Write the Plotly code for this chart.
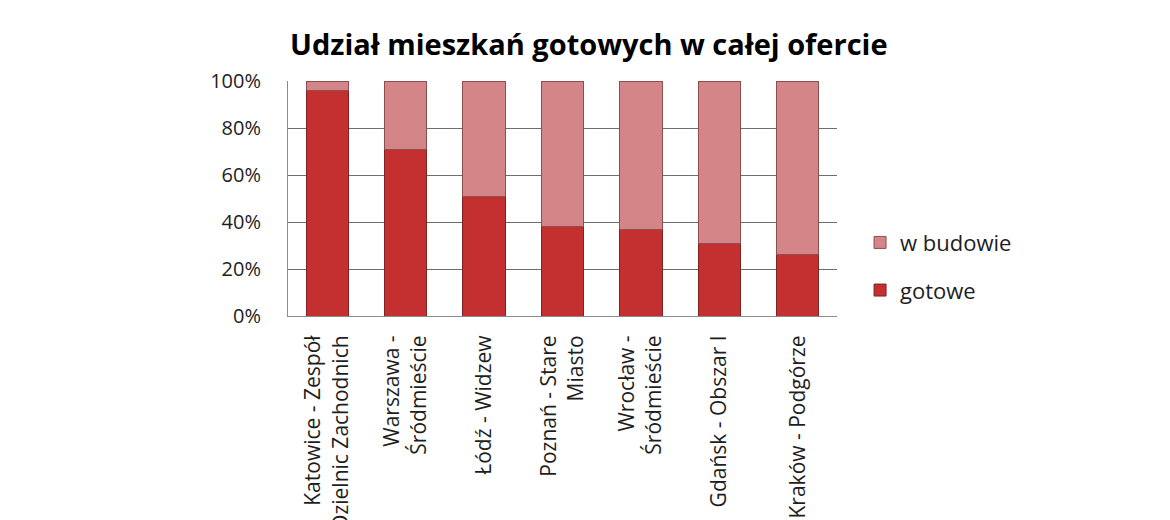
import plotly.graph_objects as go

# dane (udział w %)
kategorie = [
    "Katowice - Zespół<br>Dzielnic Zachodnich",
    "Warszawa -<br>Śródmieście",
    "Łódź - Widzew",
    "Poznań - Stare<br>Miasto",
    "Wrocław -<br>Śródmieście",
    "Gdańsk - Obszar I",
    "Kraków - Podgórze",
]
gotowe = [96, 71, 51, 38, 37, 31, 26]
w_budowie = [100 - g for g in gotowe]

FONT = "Open Sans"

fig = go.Figure()
fig.add_trace(go.Bar(x=kategorie, y=gotowe, name="gotowe",
                     legendgroup="g", legendrank=2,
                     marker=dict(color="#c3302f", line=dict(color="#7e2424", width=1))))
fig.add_trace(go.Bar(x=kategorie, y=w_budowie, name="w budowie",
                     legendgroup="b", legendrank=1,
                     marker=dict(color="#d38587", line=dict(color="#8e4e50", width=1))))

fig.update_layout(
    barmode="stack",
    bargap=0.46,
    width=1162, height=512,
    margin=dict(l=280, r=333, t=73, b=204),
    paper_bgcolor="white", plot_bgcolor="white",
    font=dict(family=FONT, color="#1e1e1e", size=16),
    title=dict(text="<b>Udział mieszkań gotowych w całej ofercie</b>",
               xref="container", x=0.2427, xanchor="left",
               yref="container", y=0.928, yanchor="middle",
               font=dict(family=FONT, size=29, color="black")),
    legend=dict(x=1.042, y=0.21, xanchor="left", yanchor="middle",
                traceorder="grouped", font=dict(size=22),
                itemwidth=30, tracegroupgap=16),
    showlegend=True,
)
fig.update_yaxes(range=[0, 100], tickvals=[0, 20, 40, 60, 80, 100],
                 ticktext=["0%", "20%", "40%", "60%", "80%", "100%"],
                 showgrid=True, gridcolor="#6e6e6e", gridwidth=1,
                 showline=True, linecolor="#8c8c8c", ticks="",
                 tickfont=dict(size=20), ticklabelstandoff=22, zeroline=False)
fig.update_xaxes(tickangle=-90, showline=True, linecolor="#8c8c8c",
                 ticks="", tickfont=dict(size=21), ticklabelstandoff=10,
                 automargin=False)

fig.write_html("out.html")
